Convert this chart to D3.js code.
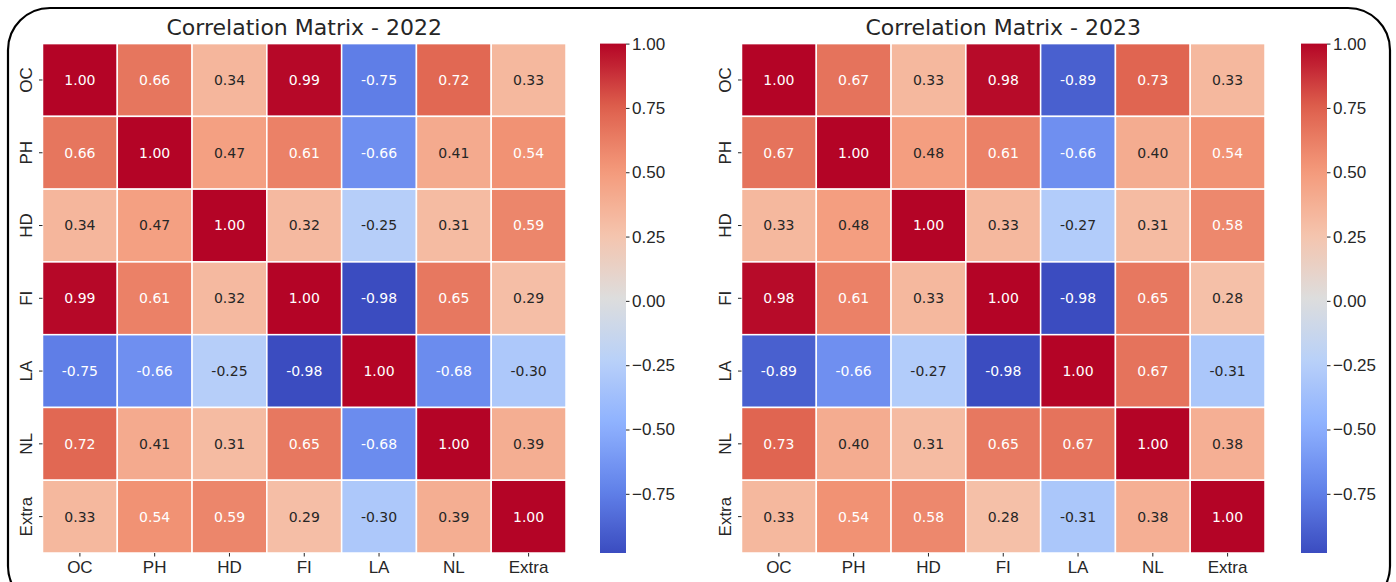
<!DOCTYPE html>
<html>
<head>
<meta charset="utf-8">
<script src="https://cdn.jsdelivr.net/npm/d3@7"></script>
<style>
  body { margin: 0; background: #fff; }
  svg { display: block; font-family: "DejaVu Sans", sans-serif; }
</style>
</head>
<body>
<script>
// variables on both axes
const labels = ["OC", "PH", "HD", "FI", "LA", "NL", "Extra"];

// correlation values, row by row
const corr2022 = [
  [1.00, 0.66, 0.34, 0.99, -0.75, 0.72, 0.33],
  [0.66, 1.00, 0.47, 0.61, -0.66, 0.41, 0.54],
  [0.34, 0.47, 1.00, 0.32, -0.25, 0.31, 0.59],
  [0.99, 0.61, 0.32, 1.00, -0.98, 0.65, 0.29],
  [-0.75, -0.66, -0.25, -0.98, 1.00, -0.68, -0.30],
  [0.72, 0.41, 0.31, 0.65, -0.68, 1.00, 0.39],
  [0.33, 0.54, 0.59, 0.29, -0.30, 0.39, 1.00]
];
const corr2023 = [
  [1.00, 0.67, 0.33, 0.98, -0.89, 0.73, 0.33],
  [0.67, 1.00, 0.48, 0.61, -0.66, 0.40, 0.54],
  [0.33, 0.48, 1.00, 0.33, -0.27, 0.31, 0.58],
  [0.98, 0.61, 0.33, 1.00, -0.98, 0.65, 0.28],
  [-0.89, -0.66, -0.27, -0.98, 1.00, 0.67, -0.31],
  [0.73, 0.40, 0.31, 0.65, 0.67, 1.00, 0.38],
  [0.33, 0.54, 0.58, 0.28, -0.31, 0.38, 1.00]
];
const colorbarTicks = [1.00, 0.75, 0.50, 0.25, 0.00, -0.25, -0.50, -0.75];

const width = 1396, height = 582;
const textColor = "#262626";

// approximation of matplotlib "coolwarm"
const coolwarmStops = ["#3b4cc0", "#6282ea", "#8db0fe", "#b8d0f9", "#dddddd",
                       "#f5c4ad", "#f49a7b", "#de604d", "#b40426"];
const coolwarm = d3.scaleLinear()
  .domain(d3.range(coolwarmStops.length).map(i => i / (coolwarmStops.length - 1)))
  .range(coolwarmStops)
  .interpolate(d3.interpolateRgb);

const svg = d3.select("body").append("svg")
  .attr("width", width)
  .attr("height", height);

// rounded frame around the figure
svg.append("rect")
  .attr("x", 8).attr("y", 8)
  .attr("width", 1382).attr("height", 600)
  .attr("rx", 42).attr("ry", 42)
  .attr("fill", "none")
  .attr("stroke", "#000")
  .attr("stroke-width", 2.2);

function luminance(c) {
  const rgb = d3.rgb(c);
  const lin = v => {
    v /= 255;
    return v <= 0.03928 ? v / 12.92 : Math.pow((v + 0.055) / 1.055, 2.4);
  };
  return 0.2126 * lin(rgb.r) + 0.7152 * lin(rgb.g) + 0.0722 * lin(rgb.b);
}

function drawPanel(opts) {
  const { left, title, values, cbLeft } = opts;
  const top = 43.6, gridW = 523.5, gridH = 509.4;
  const vmin = d3.min(values.flat()), vmax = d3.max(values.flat());
  const color = v => coolwarm((v - vmin) / (vmax - vmin));

  const x = d3.scaleBand().domain(labels).range([left, left + gridW]);
  const y = d3.scaleBand().domain(labels).range([top, top + gridH]);

  const g = svg.append("g");

  g.append("text")
    .attr("x", left + gridW / 2)
    .attr("y", 35)
    .attr("text-anchor", "middle")
    .attr("font-size", 22)
    .attr("fill", textColor)
    .text(title);

  const cells = [];
  values.forEach((row, i) => row.forEach((v, j) => cells.push({ r: labels[i], c: labels[j], v })));

  g.selectAll("rect.cell")
    .data(cells)
    .enter().append("rect")
    .attr("class", "cell")
    .attr("x", d => x(d.c))
    .attr("y", d => y(d.r))
    .attr("width", x.bandwidth())
    .attr("height", y.bandwidth())
    .attr("fill", d => color(d.v))
    .attr("stroke", "#fff")
    .attr("stroke-width", 1.5);

  g.selectAll("text.annot")
    .data(cells)
    .enter().append("text")
    .attr("class", "annot")
    .attr("x", d => x(d.c) + x.bandwidth() / 2)
    .attr("y", d => y(d.r) + y.bandwidth() / 2)
    .attr("dy", "0.35em")
    .attr("text-anchor", "middle")
    .attr("font-size", 14)
    .attr("fill", d => luminance(color(d.v)) > 0.408 ? textColor : "#fff")
    .text(d => d.v.toFixed(2));

  // axes
  const xAxis = g.append("g")
    .attr("transform", `translate(0,${top + gridH})`)
    .call(d3.axisBottom(x).tickSize(3.5).tickPadding(4));
  xAxis.select(".domain").remove();
  xAxis.selectAll("text").attr("font-size", 17).attr("fill", textColor);
  xAxis.selectAll("line").attr("stroke", textColor);

  const yAxis = g.append("g")
    .attr("transform", `translate(${left},0)`)
    .call(d3.axisLeft(y).tickSize(3.5).tickPadding(0));
  yAxis.select(".domain").remove();
  yAxis.selectAll("line").attr("stroke", textColor);
  yAxis.selectAll("text")
    .attr("font-size", 17)
    .attr("fill", textColor)
    .attr("text-anchor", "middle")
    .attr("x", 0).attr("dy", 0)
    .attr("transform", "translate(-11,0) rotate(-90)");

  // colorbar
  const cbW = 26;
  const cbScale = d3.scaleLinear().domain([vmin, vmax]).range([top + gridH, top]);
  const gradId = "grad" + title.slice(-4);
  const grad = svg.append("defs").append("linearGradient")
    .attr("id", gradId)
    .attr("x1", 0).attr("y1", 1).attr("x2", 0).attr("y2", 0);
  d3.range(0, 1.0001, 0.02).forEach(t => {
    grad.append("stop").attr("offset", t).attr("stop-color", coolwarm(t));
  });
  g.append("rect")
    .attr("x", cbLeft).attr("y", top)
    .attr("width", cbW).attr("height", gridH)
    .attr("fill", `url(#${gradId})`);

  const cbAxis = g.append("g")
    .attr("transform", `translate(${cbLeft + cbW},0)`)
    .call(d3.axisRight(cbScale)
      .tickValues(colorbarTicks)
      .tickSize(3.5)
      .tickPadding(2.5)
      .tickFormat(d => d3.format(".2f")(d).replace("-", "\u2212")));
  cbAxis.select(".domain").remove();
  cbAxis.selectAll("line").attr("stroke", textColor);
  cbAxis.selectAll("text").attr("font-size", 17).attr("fill", textColor);
}

drawPanel({ left: 42.5, title: "Correlation Matrix - 2022", values: corr2022, cbLeft: 600 });
drawPanel({ left: 741.5, title: "Correlation Matrix - 2023", values: corr2023, cbLeft: 1301 });
</script>
</body>
</html>
